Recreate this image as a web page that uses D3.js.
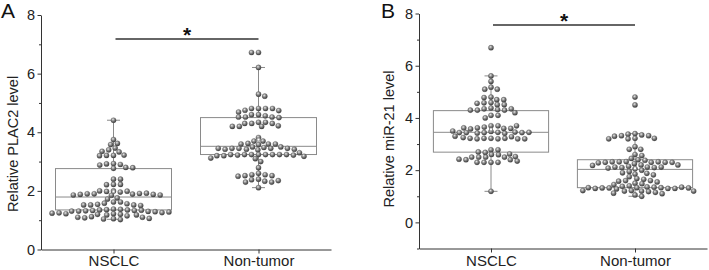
<!DOCTYPE html>
<html><head><meta charset="utf-8">
<script src="https://cdn.jsdelivr.net/npm/d3@7"></script>
<style>body{margin:0;background:#fff;} svg{display:block;font-family:"Liberation Sans",Arial,sans-serif;}</style>
</head><body><svg id="c" width="709" height="270"></svg>
<script>
const categories = ["NSCLC", "Non-tumor"];
const yTicks = [0, 2, 4, 6, 8];

const plac2NSCLC = [4.41,
  3.75, 3.62, 3.58, 3.46, 3.40, 3.33, 3.35,
  3.21, 3.21, 3.22, 3.20,
  2.93, 2.92, 2.90, 2.88, 2.80, 2.79, 2.77,
  2.40, 2.40,
  2.22, 2.22, 2.21,
  2.00, 1.98, 1.96, 1.99, 2.00, 1.90, 1.89, 1.91, 1.90, 1.92, 1.88, 1.88, 1.86, 1.85, 1.86, 1.76,
  1.72, 1.62, 1.62, 1.58, 1.56, 1.54, 1.52, 1.52, 1.50, 1.52,
  1.38, 1.36, 1.37, 1.35, 1.35, 1.33, 1.33, 1.34, 1.32, 1.30, 1.31, 1.29, 1.31,
  1.22, 1.20, 1.18, 1.15, 1.22, 1.20, 1.18, 1.26, 1.25, 1.28, 1.24,
  1.12, 1.10, 1.08, 1.05, 1.02, 1.04, 1.06, 1.10];
const plac2Normal = [6.72, 6.72, 6.21, 5.30, 5.23,
  4.81, 4.81, 4.81, 4.81, 4.75, 4.74, 4.69, 4.60, 4.60, 4.56, 4.52, 4.52, 4.52, 4.50,
  4.34, 4.34, 4.30, 4.30, 4.30, 4.22, 4.20, 4.20, 4.20,
  3.82, 3.70, 3.70, 3.62, 3.60, 3.60, 3.60, 3.58, 3.50, 3.50, 3.48, 3.45, 3.42, 3.45, 3.45, 3.45, 3.42, 3.40, 3.42, 3.45,
  3.24, 3.24, 3.24, 3.24, 3.24, 3.22, 3.24, 3.24, 3.24, 3.20, 3.22, 3.10, 3.30, 3.20, 3.18, 3.12,
  3.00, 2.79,
  2.60, 2.55, 2.55, 2.52, 2.52, 2.50,
  2.40, 2.38, 2.33, 2.30, 2.30, 2.35, 2.11];
const mir21NSCLC = [6.69, 5.61, 5.40, 5.18, 5.10, 5.10,
  4.80, 4.78, 4.70, 4.70, 4.59, 4.58, 4.56, 4.51, 4.51,
  4.38, 4.35, 4.32, 4.30, 4.30, 4.35, 4.30, 4.10, 4.20, 4.10, 4.00,
  3.70, 3.65, 3.70, 3.60, 3.62, 3.60, 3.58, 3.70, 3.62,
  3.48, 3.45, 3.44, 3.42, 3.46, 3.41, 3.44, 3.44, 3.44, 3.45, 3.50,
  3.22, 3.22, 3.20, 3.22, 3.20, 3.22, 3.28, 3.20, 3.30, 3.25, 3.20,
  2.78, 2.78, 2.68, 2.60, 2.70, 2.59,
  2.50, 2.50, 2.50, 2.62, 2.50, 2.52,
  2.30, 2.30, 2.30, 2.40, 2.40, 2.30, 2.35, 2.42,
  1.19];
const mir21Normal = [4.80, 4.50,
  3.40, 3.38, 3.35, 3.32, 3.32, 3.30, 3.22, 3.22, 3.20, 3.20,
  2.90, 2.80, 2.80, 2.60, 2.56,
  2.45, 2.40, 2.38, 2.33, 2.32, 2.30, 2.32, 2.32, 2.30, 2.30, 2.28, 2.30, 2.25,
  2.20, 2.20, 2.15, 2.12, 2.10, 2.10, 2.12, 2.05, 2.12, 2.00, 2.08, 2.18,
  1.95, 1.90, 1.85, 1.88, 1.82, 1.75, 1.68, 1.65, 1.60, 1.60, 1.58, 1.55, 1.50, 1.48, 1.45,
  1.40, 1.38, 1.36, 1.35, 1.33, 1.33, 1.32, 1.32, 1.30, 1.30, 1.28, 1.30, 1.33, 1.35, 1.32,
  1.22, 1.20, 1.20, 1.22, 1.18, 1.15, 1.20, 1.12, 1.10, 1.05, 1.00];

// [whiskerLow, Q1, median, Q3, whiskerHigh, mean]
const plac2Stats = [[1.03, 1.35, 1.79, 2.76, 4.41, 1.98], [2.11, 3.24, 3.52, 4.50, 6.21, 3.75]];
const mir21Stats = [[1.19, 2.69, 3.45, 4.28, 5.61, 3.56], [1.00, 1.33, 2.03, 2.40, 3.40, 2.07]];

const svg = d3.select("#c");
const defs = svg.append("defs");
const grad = defs.append("radialGradient").attr("id", "ball")
  .attr("cx", "40%").attr("cy", "35%").attr("r", "65%");
grad.append("stop").attr("offset", "0%").attr("stop-color", "#e8e8e8");
grad.append("stop").attr("offset", "45%").attr("stop-color", "#8a8a8a");
grad.append("stop").attr("offset", "100%").attr("stop-color", "#3a3a3a");

const panels = [
  {label: "A", lx: 1, title: "Relative PLAC2 level", tx: 13, ty: 144,
   domain: [0, 8], minor: [1, 3, 5, 7], series: [plac2NSCLC, plac2Normal], stats: plac2Stats,
   x0: 41, x1: 331, yTop: 15, yBot: 249.5, sigV: 7.18, xPad: 1.5},
  {label: "B", lx: 381, title: "Relative miR-21 level", tx: 389, ty: 139,
   domain: [-1, 8], minor: [-1, 1, 3, 5, 7], series: [mir21NSCLC, mir21Normal], stats: mir21Stats,
   x0: 419, x1: 707, yTop: 13.5, yBot: 248.5, sigV: 7.56, xPad: 2.5}
];

function swarm(values, y, dxS, dyS) {
  const placed = [];
  let toggle = 1;
  values.forEach(v => {
    const py = y(v);
    const cands = [0];
    placed.forEach(p => {
      const dy = Math.abs(p.y - py);
      if (dy < dyS) {
        const w = dxS * Math.sqrt(1 - (dy / dyS) ** 2);
        cands.push(p.dx + w, p.dx - w);
      }
    });
    toggle = -toggle;
    cands.sort((a, b) => (Math.abs(a) - Math.abs(b)) || (toggle * (a - b)));
    for (const c of cands) {
      const ok = placed.every(p => {
        const a = (p.y - py) / dyS, b = (p.dx - c) / dxS;
        return a * a + b * b >= 0.995;
      });
      if (ok) { placed.push({dx: c, y: py, v}); break; }
    }
  });
  return placed;
}

panels.forEach(P => {
  const g = svg.append("g");
  const x = d3.scalePoint().domain(categories).range([P.x0, P.x1]).padding(0.5);
  const y = d3.scaleLinear().domain(P.domain).range([P.yBot, P.yTop]);
  const boxW = x.step() * 0.8;

  const ya = d3.axisLeft(y).tickValues(yTicks).tickSize(3.5).tickPadding(2.5).tickSizeOuter(0);
  const yg = g.append("g").attr("transform", `translate(${P.x0},0)`).call(ya);
  g.append("g").attr("transform", `translate(${P.x0},0)`)
    .call(d3.axisLeft(y).tickValues(P.minor).tickSize(2).tickFormat("").tickSizeOuter(0))
    .select(".domain").remove();
  const xa = d3.axisBottom(x).tickSize(4).tickPadding(P.xPad).tickSizeOuter(0);
  const xg = g.append("g").attr("transform", `translate(0,${P.yBot})`).call(xa);
  g.selectAll(".domain, .tick line").attr("stroke", "#333").attr("stroke-width", 1);
  yg.selectAll("text").attr("font-size", 14.5).attr("fill", "#222").attr("font-family", "Liberation Sans, Arial, sans-serif");
  xg.selectAll("text").attr("font-size", 15).attr("fill", "#222").attr("font-family", "Liberation Sans, Arial, sans-serif");

  categories.forEach((c, i) => {
    const s = P.stats[i];
    const cx = x(c);
    const bg = g.append("g").attr("stroke", "#8a8a8a").attr("stroke-width", 1).attr("fill", "none");
    bg.append("rect").attr("x", cx - boxW / 2).attr("y", y(s[3])).attr("width", boxW).attr("height", y(s[1]) - y(s[3]));
    bg.append("line").attr("x1", cx - boxW / 2).attr("x2", cx + boxW / 2).attr("y1", y(s[2])).attr("y2", y(s[2]));
    bg.append("line").attr("x1", cx).attr("x2", cx).attr("y1", y(s[3])).attr("y2", y(s[4]));
    bg.append("line").attr("x1", cx).attr("x2", cx).attr("y1", y(s[1])).attr("y2", y(s[0]));
    [s[0], s[4]].forEach(w => bg.append("line").attr("x1", cx - 6.5).attr("x2", cx + 6.5).attr("y1", y(w)).attr("y2", y(w)));

    const pts = swarm(P.series[i], y, 7.0, 4.6);
    g.append("g").selectAll("circle").data(pts).join("circle")
      .attr("cx", d => cx + d.dx).attr("cy", d => d.y).attr("r", 2.6)
      .attr("fill", "url(#ball)").attr("stroke", "#4a4a4a").attr("stroke-width", 0.3);

    g.append("rect").attr("x", cx - 1.5).attr("y", y(s[5]) - 1.5).attr("width", 3).attr("height", 3)
      .attr("fill", "#fff").attr("stroke", "#777").attr("stroke-width", 0.8);
  });

  const sy = y(P.sigV);
  g.append("line").attr("x1", x(categories[0]) + 2).attr("x2", x(categories[1])).attr("y1", sy).attr("y2", sy)
    .attr("stroke", "#333").attr("stroke-width", 1.4);
  g.append("text").attr("x", (x(categories[0]) + x(categories[1])) / 2 + 1).attr("y", sy + 3)
    .attr("text-anchor", "middle").attr("font-size", 21).attr("font-weight", "bold").attr("fill", "#111").text("*");

  g.append("text").attr("transform", `translate(${P.tx},${P.ty}) rotate(-90)`)
    .attr("text-anchor", "middle").attr("dominant-baseline", "central")
    .attr("font-size", 14.5).attr("fill", "#222").text(P.title);
  g.append("text").attr("x", P.lx).attr("y", 18).attr("font-size", 21).attr("fill", "#111").text(P.label);
});
</script></body></html>
